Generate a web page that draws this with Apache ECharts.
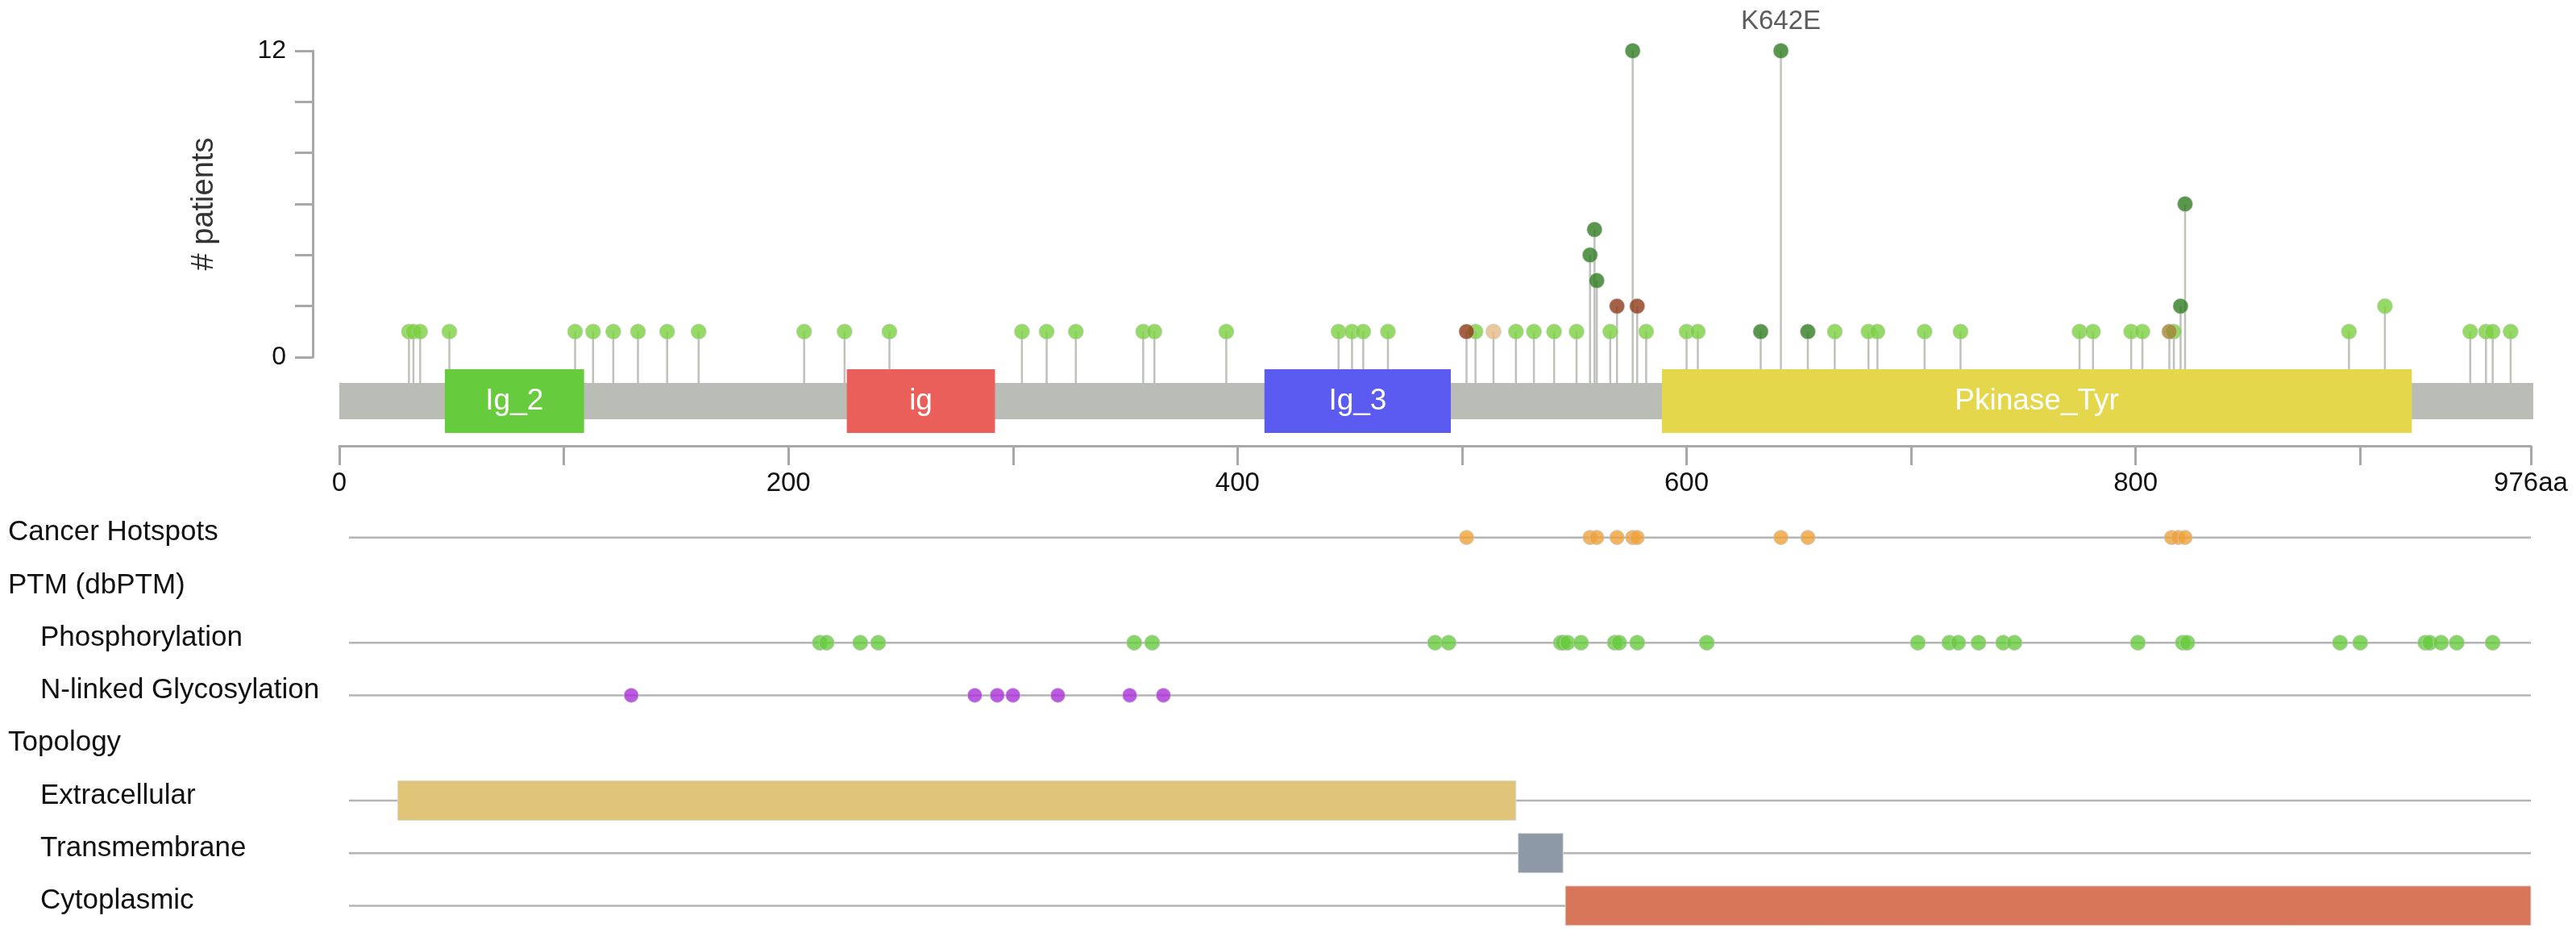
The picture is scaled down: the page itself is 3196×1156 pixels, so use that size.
<!DOCTYPE html>
<html>
<head>
<meta charset="utf-8">
<script src="https://cdn.jsdelivr.net/npm/echarts@6/dist/echarts.min.js"></script>
<style>
html,body{margin:0;padding:0;background:#ffffff;}
#chart{width:3196px;height:1156px;}
</style>
</head>
<body>
<div id="chart"></div>
<script>
// ---------------- DATA ----------------
const proteinLength = 976;

// lollipop mutations: position (aa), number of patients, mutation class
const mutPositions = [31,33,36,49,105,113,122,133,146,160,207,225,245,304,315,328,358,363,395,445,451,456,467,502,506,514,524,532,541,551,557,559,560,566,569,576,578,582,600,605,633,642,654,666,681,685,706,722,775,781,798,803,815,817,820,822,895,911,949,956,959,967];
const mutCounts    = [1,1,1,1,1,1,1,1,1,1,1,1,1,1,1,1,1,1,1,1,1,1,1,1,1,1,1,1,1,1,4,5,3,1,2,12,2,1,1,1,1,12,1,1,1,1,1,1,1,1,1,1,1,1,2,6,1,2,1,1,1,1];
const mutTypes     = ['mis','mis','mis','mis','mis','mis','mis','mis','mis','mis','mis','mis','mis','mis','mis','mis','mis','mis','mis','mis','mis','mis','mis','infD','mis','spl','mis','mis','mis','mis','misD','misD','misD','mis','infD','misD','infD','mis','mis','mis','misD','misD','misD','mis','mis','mis','mis','mis','mis','mis','mis','mis','inf','mis','misD','misD','mis','mis','mis','mis','mis','mis'];
const labelledPositions = [642];
const labelledTexts = ['K642E'];

// Pfam domains
const domainNames  = ['Ig_2','ig','Ig_3','Pkinase_Tyr'];
const domainStarts = [47,226,412,589];
const domainEnds   = [109,292,495,923];

// tracks
const trackNames = ['Cancer Hotspots','PTM (dbPTM)','Phosphorylation','N-linked Glycosylation','Topology','Extracellular','Transmembrane','Cytoplasmic'];
const groupHeaders = ['PTM (dbPTM)','Topology'];
const topLevelTracks = ['Cancer Hotspots','PTM (dbPTM)','Topology'];
const hotspotPositions = [502,557,560,569,576,578,642,654,816,819,822];
const phosphoPositions = [214,217,232,240,354,362,488,494,544,545,547,553,568,570,578,609,703,717,721,730,741,746,801,821,823,891,900,929,931,936,943,959];
const glycoPositions   = [130,283,293,300,320,352,367];
const topologyNames  = ['Extracellular','Transmembrane','Cytoplasmic'];
const topologyStarts = [26,525,546];
const topologyEnds   = [524,545,976];

// tick labels
const xTickValues = [0,200,400,600,800,976];
const xTickTexts  = ['0','200','400','600','800','976aa'];
const yTickValues = [0,12];
const yTickTexts  = ['0','12'];

// ---------------- STYLE ----------------
const FONT = '"Liberation Sans", Arial, Helvetica, sans-serif';
const typeColor = {mis:'#7AD140', misD:'#2F7D22', infD:'#8F3A18', spl:'#E6B985', inf:'#A38436'};
const typeRank  = {mis:0, spl:1, inf:2, misD:3, infD:4};
const domainColors = ['#67CC3D','#EB5F5A','#5B5BF2','#E5D74B'];
const topologyColors = ['#E0C477','#8E99A8','#D8765A'];
const axisGray = '#A8A8A8';

const muts = mutPositions.map((p,i)=>({pos:p, count:mutCounts[i], type:mutTypes[i]}));
const headOrder = muts.slice().sort((a,b)=> (typeRank[a.type]-typeRank[b.type]) || (a.pos-b.pos));

const chart = echarts.init(document.getElementById('chart'), null, {renderer:'canvas'});

const option = {
  animation:false,
  backgroundColor:'#ffffff',
  textStyle:{fontFamily:FONT},
  grid:[
    {left:421, top:63, width:2719, height:380},
    {left:421, top:634, width:2719, height:523}
  ],
  xAxis:[
    {gridIndex:0, type:'value', min:0, max:proteinLength, interval:100, position:'bottom', offset:110,
     axisLine:{show:true, onZero:false, lineStyle:{color:axisGray, width:3}},
     axisTick:{show:true, length:24, lineStyle:{color:axisGray, width:3}},
     splitLine:{show:false},
     axisLabel:{margin:30, fontSize:33, color:'#111', fontFamily:FONT,
       formatter:(v)=>{const i=xTickValues.indexOf(v); return i>=0?xTickTexts[i]:'';}}
    },
    {gridIndex:1, type:'value', min:0, max:proteinLength, show:false}
  ],
  yAxis:[
    {gridIndex:0, type:'value', min:0, max:12, interval:2, position:'left', offset:33,
     axisLine:{show:true, onZero:false, lineStyle:{color:axisGray, width:3}},
     axisTick:{show:true, length:22, lineStyle:{color:axisGray, width:3}},
     splitLine:{show:false},
     axisLabel:{margin:33, fontSize:32, color:'#111', fontFamily:FONT,
       formatter:(v)=>{const i=yTickValues.indexOf(v); return i>=0?yTickTexts[i]:'';}},
     name:'# patients', nameLocation:'middle', nameRotate:90, nameGap:115,
     nameTextStyle:{fontSize:38, color:'#333', fontFamily:FONT}
    },
    {gridIndex:1, type:'category', data:trackNames, inverse:true,
     axisLine:{show:false}, axisTick:{show:false}, splitLine:{show:false},
     axisLabel:{interval:0, margin:411, align:'left', fontFamily:FONT,
       formatter:(v)=> topLevelTracks.includes(v) ? '{h|'+v+'}' : '{s|'+v+'}',
       rich:{
         h:{fontSize:35, color:'#111', fontFamily:FONT, padding:[0,0,12,0]},
         s:{fontSize:35, color:'#111', fontFamily:FONT, padding:[0,0,12,40]}
       }}
    }
  ],
  series:[
    // protein backbone
    {type:'custom', xAxisIndex:0, yAxisIndex:0, z:2, clip:false, silent:true,
     data:[[0, proteinLength]], encode:{x:[0,1]},
     renderItem:(params, api)=>{
       const a = api.coord([api.value(0), 0]);
       const b = api.coord([api.value(1), 0]);
       return {type:'rect', shape:{x:a[0], y:a[1]+32, width:b[0]-a[0]+3, height:45}, style:{fill:'#BABDB6'}};
     }},
    // needles
    {type:'custom', xAxisIndex:0, yAxisIndex:0, z:3, clip:false, silent:true,
     data: muts.map(m=>[m.pos, m.count]),
     renderItem:(params, api)=>{
       const top = api.coord([api.value(0), api.value(1)]);
       const base = api.coord([api.value(0), 0]);
       return {type:'line', shape:{x1:top[0], y1:base[1]+32, x2:top[0], y2:top[1]},
               style:{stroke:'#BFC1BB', lineWidth:2.5}};
     }},
    // domains
    {type:'custom', xAxisIndex:0, yAxisIndex:0, z:4, clip:false, silent:true,
     data: domainNames.map((n,i)=>[domainStarts[i], domainEnds[i]]), encode:{x:[0,1]},
     renderItem:(params, api)=>{
       const a = api.coord([api.value(0), 0]);
       const b = api.coord([api.value(1), 0]);
       return {type:'group', children:[
         {type:'rect', shape:{x:a[0], y:a[1]+15, width:b[0]-a[0], height:79},
          style:{fill:domainColors[params.dataIndex]}},
         {type:'text', x:(a[0]+b[0])/2, y:a[1]+55,
          style:{text:domainNames[params.dataIndex], fill:'#ffffff', font:'37px '+FONT, align:'center', verticalAlign:'middle'}}
       ]};
     }},
    // lollipop heads
    {type:'scatter', xAxisIndex:0, yAxisIndex:0, z:5, clip:false, symbol:'circle', symbolSize:19,
     data: headOrder.map(m=>{
       const item = {value:[m.pos, m.count], itemStyle:{color:typeColor[m.type], borderColor:'rgba(205,205,205,0.8)', borderWidth:1}};
       const li = labelledPositions.indexOf(m.pos);
       if (li >= 0) {
         item.label = {show:true, position:'top', distance:10, formatter:labelledTexts[li],
                       color:'#333', fontSize:33, fontFamily:FONT};
       }
       return item;
     })},
    // track lines
    {type:'custom', xAxisIndex:1, yAxisIndex:1, z:2, clip:false, silent:true,
     data: trackNames.filter(n=>!groupHeaders.includes(n)).map(n=>[0, proteinLength, trackNames.indexOf(n)]),
     encode:{x:[0,1], y:2},
     renderItem:(params, api)=>{
       const a = api.coord([api.value(0), api.value(2)]);
       const b = api.coord([api.value(1), api.value(2)]);
       return {type:'line', shape:{x1:a[0]+12, y1:a[1], x2:b[0], y2:b[1]},
               style:{stroke:'#B4B4B4', lineWidth:2.5}};
     }},
    // topology
    {type:'custom', xAxisIndex:1, yAxisIndex:1, z:3, clip:false, silent:true,
     data: topologyNames.map((n,i)=>[topologyStarts[i], topologyEnds[i], trackNames.indexOf(n)]),
     encode:{x:[0,1], y:2},
     renderItem:(params, api)=>{
       const a = api.coord([api.value(0), api.value(2)]);
       const b = api.coord([api.value(1), api.value(2)]);
       return {type:'rect', shape:{x:a[0], y:a[1]-24.5, width:b[0]-a[0], height:49},
               style:{fill:topologyColors[params.dataIndex], stroke:'#DADADA', lineWidth:1}};
     }},
    // hotspots
    {type:'scatter', xAxisIndex:1, yAxisIndex:1, z:4, clip:false, symbol:'circle', symbolSize:18,
     itemStyle:{color:'#F0A138', borderColor:'#C8C8C8', borderWidth:1},
     data: hotspotPositions.map(p=>[p, trackNames.indexOf('Cancer Hotspots')])},
    // phosphorylation
    {type:'scatter', xAxisIndex:1, yAxisIndex:1, z:4, clip:false, symbol:'circle', symbolSize:19,
     itemStyle:{color:'#66CC3E', borderColor:'#C8C8C8', borderWidth:1},
     data: phosphoPositions.map(p=>[p, trackNames.indexOf('Phosphorylation')])},
    // glycosylation
    {type:'scatter', xAxisIndex:1, yAxisIndex:1, z:4, clip:false, symbol:'circle', symbolSize:18,
     itemStyle:{color:'#AA30D8', borderColor:'#C8C8C8', borderWidth:1},
     data: glycoPositions.map(p=>[p, trackNames.indexOf('N-linked Glycosylation')])}
  ]
};
chart.setOption(option);
</script>
</body>
</html>
